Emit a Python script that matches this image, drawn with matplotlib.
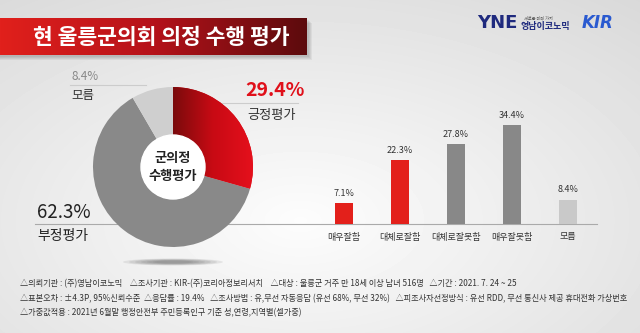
import numpy as np
import matplotlib.pyplot as plt
from matplotlib.colors import LinearSegmentedColormap
from matplotlib.patches import Ellipse, Rectangle, Circle

plt.rcParams['font.family'] = ['Noto Sans CJK KR', 'DejaVu Sans']

# 데이터
title = "현 울릉군의회 의정 수행 평가"
donut_labels = ["긍정평가", "부정평가", "모름"]
donut_vals = [29.4, 62.3, 8.4]
donut_colors = ["#d8101a", "#898989", "#cfcfcf"]
center_text = "군의정\n수행평가"

bar_cats = ["매우잘함", "대체로잘함", "대체로잘못함", "매우잘못함", "모름"]
bar_vals = [7.1, 22.3, 27.8, 34.4, 8.4]
bar_colors = ["#e3201b", "#e3201b", "#888888", "#888888", "#c9c9c9"]

notes = [
    "△의뢰기관 : (주)영남이코노믹    △조사기관 : KIR-(주)코리아정보리서치    △대상 : 울릉군 거주 만 18세 이상 남녀 516명   △기간 : 2021. 7. 24 ~ 25",
    "△표본오차 : ±4.3P, 95%신뢰수준  △응답률 : 19.4%   △조사방법 : 유,무선 자동응답 (유선 68%, 무선 32%)   △피조사자선정방식 : 유선 RDD, 무선 통신사 제공 휴대전화 가상번호",
    "△가중값적용 : 2021년 6월말 행정안전부 주민등록인구 기준 성,연령,지역별(셀가중)",
]

W, H = 640, 333
fig = plt.figure(figsize=(W / 100, H / 100), dpi=100)

# 배경 (픽셀 좌표)
bg = fig.add_axes([0, 0, 1, 1])
bg.set_xlim(0, W)
bg.set_ylim(H, 0)
bg.axis("off")
yy, xx = np.mgrid[0:H, 0:W]
d = np.sqrt(((xx - 300) / 450.0) ** 2 + ((yy - 220) / 250.0) ** 2)
shade = np.clip(0.99 - 0.12 * d, 0.82, 1)
bg.imshow(shade, cmap="gray", vmin=0, vmax=1, extent=(0, W, H, 0), aspect="auto", zorder=0)

# 제목 배너
for k in range(4):
    bg.add_patch(Rectangle((0, 20 + k), 309 + k, 37, color="#000000", alpha=0.05, lw=0, zorder=1))
grad = np.linspace(0, 1, 256).reshape(1, -1)
red_cmap = LinearSegmentedColormap.from_list("banner", ["#e1201c", "#b5121a", "#5c0b0d"])
bg.imshow(grad, cmap=red_cmap, extent=(0, 307, 55, 18), aspect="auto", zorder=2)
bg.text(33, 37, title, color="white", fontsize=15.5, fontweight="bold", va="center", ha="left", zorder=3)

# 로고
bg.text(477, 23, "YNE", color="#1f2a7e", fontsize=13, fontweight="bold", family="DejaVu Sans",
        va="center", ha="left")
bg.text(524, 18, "새로운 미래 가치", color="#555555", fontsize=3, va="center", ha="left")
bg.text(521, 27, "영남이코노믹", color="#1f2a7e", fontsize=6.5, fontweight="bold", va="center", ha="left")
bg.text(582, 23, "KIR", color="#2a5ad0", fontsize=12, fontweight="bold", style="italic",
        family="DejaVu Sans", va="center", ha="left")

# 기준선 (도넛 뒤)
bg.plot([35, 597], [223.5, 223.5], color="#aaaaaa", lw=0.8, zorder=2)
bg.plot([222, 298], [103, 103], color="#cccccc", lw=0.8, zorder=2)
bg.plot([70, 146], [85, 85], color="#cccccc", lw=0.8, zorder=2)

# 도넛 그림자
for k in range(6):
    bg.add_patch(Ellipse((173, 262), 100 - k * 12, 7 - k * 0.8, color="#000000", alpha=0.07, lw=0, zorder=2))

# 도넛 라벨
bg.text(245, 90, f"{donut_vals[0]}%", color="#e0101a", fontsize=14, fontweight="bold", va="center", ha="left")
bg.text(247, 116, donut_labels[0], color="#333333", fontsize=9.5, va="center", ha="left")
bg.text(37, 213, f"{donut_vals[1]}%", color="#222222", fontsize=13.5, va="center", ha="left")
bg.text(37, 236, donut_labels[1], color="#222222", fontsize=10, va="center", ha="left")
bg.text(71, 76, f"{donut_vals[2]}%", color="#888888", fontsize=8.5, va="center", ha="left")
bg.text(71, 96, donut_labels[2], color="#333333", fontsize=9, va="center", ha="left")

# 조사 개요
for i, line in enumerate(notes):
    bg.text(20, 284 + i * 14.5, line, color="#333333", fontsize=5.9, va="center", ha="left")

# 도넛
cx, cy, r = 173, 167, 80
ax1 = fig.add_axes([(cx - r) / W, (H - cy - r) / H, 2 * r / W, 2 * r / H])
ax1.set_facecolor("none")
wedges, _ = ax1.pie(donut_vals, colors=donut_colors, startangle=90, counterclock=False,
                    radius=1, wedgeprops=dict(width=0.6, linewidth=0))
wg = np.linspace(0, 1, 256).reshape(1, -1)
wedge_cmap = LinearSegmentedColormap.from_list("wedge", ["#7a0a0c", "#c80a14", "#e5101c"])
im = ax1.imshow(wg, cmap=wedge_cmap, extent=(0, 1, -1, 1), aspect="auto", zorder=3)
im.set_clip_path(wedges[0])
ax1.add_patch(Circle((0, 0), 0.4, color="white", zorder=4))
ax1.text(0, 0, center_text, ha="center", va="center", fontsize=9.5, fontweight="bold",
         color="#222222", linespacing=1.3, zorder=5)
ax1.set_xlim(-1, 1)
ax1.set_ylim(-1, 1)
ax1.set_aspect("equal")
ax1.axis("off")

# 막대
x0, step, base = 250, 56, 223.5
ax2 = fig.add_axes([x0 / W, (H - base) / H, 347 / W, 114 / H])
ax2.set_facecolor("none")
pos = np.arange(len(bar_vals))
ax2.bar(pos, bar_vals, width=0.32, color=bar_colors)
for p, v in zip(pos, bar_vals):
    ax2.text(p, v + 1.8, f"{v}%", ha="center", va="bottom", fontsize=6.5, color="#333333")
ax2.set_xlim(-94 / step, -94 / step + 347 / step)
ax2.set_ylim(0, 40)
ax2.axis("off")
for p, c in zip(pos, bar_cats):
    bg.text(344 + p * step, 237, c, ha="center", va="center", fontsize=6.5, color="#333333")

fig.savefig("out.png", dpi=100)
